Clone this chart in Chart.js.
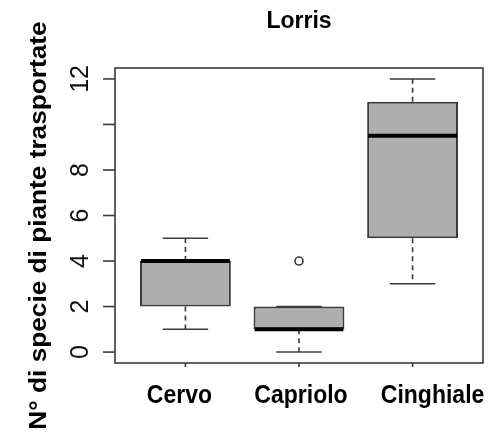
<!DOCTYPE html>
<html>
<head>
<meta charset="utf-8">
<title>Lorris</title>
<script src="https://cdn.jsdelivr.net/npm/chart.js@4.4.0/dist/chart.umd.min.js"></script>
<style>
  html, body { margin: 0; padding: 0; background: #fff; }
  canvas { display: block; }
</style>
</head>
<body>
<canvas id="boxChart" width="493" height="435"></canvas>
<script>
const categories = ['Cervo', 'Capriolo', 'Cinghiale'];
const whiskerLow = [1, 0, 3];
const q1 = [2, 1, 5];
const medians = [4, 1, 9.5];
const q3 = [4, 2, 11];
const whiskerHigh = [5, 2, 12];
const outliers = [[], [4], []];
const yTicks = [0, 2, 4, 6, 8, 10, 12];
const yTickLabels = ['0', '2', '4', '6', '8', '', '12'];

const chartTitle = 'Lorris';
const yTitle = 'N° di specie di piante trasportate';
const FONT = '"Liberation Sans", Arial, sans-serif';

// Spostamento orizzontale delle etichette delle categorie (come nell'originale)
const xLabelShift = [-6, 2, 20];

// Plugin: baffi, mediane, cornice, assi e testi alla maniera di R
const rBoxplot = {
  id: 'rBoxplot',
  afterDatasetsDraw(chart) {
    const { ctx, chartArea: a, scales: { x, y } } = chart;
    const bars = chart.getDatasetMeta(0).data;
    ctx.save();

    // baffi tratteggiati + staffe
    categories.forEach((c, i) => {
      const px = x.getPixelForValue(i + 1);
      const capHalf = x.getPixelForValue(i + 1.2) - px;
      ctx.strokeStyle = '#3a3a3a';
      ctx.lineWidth = 1.6;
      ctx.setLineDash([5, 4]);
      ctx.beginPath();
      ctx.moveTo(px, y.getPixelForValue(q3[i]));
      ctx.lineTo(px, y.getPixelForValue(whiskerHigh[i]));
      ctx.moveTo(px, y.getPixelForValue(q1[i]));
      ctx.lineTo(px, y.getPixelForValue(whiskerLow[i]));
      ctx.stroke();
      ctx.setLineDash([]);
      ctx.beginPath();
      [whiskerHigh[i], whiskerLow[i]].forEach(v => {
        const py = y.getPixelForValue(v);
        ctx.moveTo(px - capHalf, py);
        ctx.lineTo(px + capHalf, py);
      });
      ctx.stroke();

      // mediana
      const bar = bars[i];
      const py = y.getPixelForValue(medians[i]);
      ctx.strokeStyle = '#000';
      ctx.lineWidth = 4;
      ctx.beginPath();
      ctx.moveTo(bar.x - bar.width / 2 + 1, py);
      ctx.lineTo(bar.x + bar.width / 2 - 1, py);
      ctx.stroke();
    });

    // cornice
    ctx.strokeStyle = '#3a3a3a';
    ctx.lineWidth = 1.6;
    ctx.strokeRect(a.left, a.top, a.right - a.left, a.bottom - a.top);

    // asse y: tacche ed etichette ruotate
    ctx.fillStyle = '#111';
    ctx.font = '25px ' + FONT;
    ctx.textAlign = 'center';
    ctx.textBaseline = 'alphabetic';
    yTicks.forEach((v, i) => {
      const py = y.getPixelForValue(v);
      ctx.beginPath();
      ctx.moveTo(a.left - 12, py);
      ctx.lineTo(a.left, py);
      ctx.stroke();
      if (yTickLabels[i]) {
        ctx.save();
        ctx.translate(a.left - 27, py);
        ctx.rotate(-Math.PI / 2);
        ctx.fillText(yTickLabels[i], 0, 0);
        ctx.restore();
      }
    });

    // asse x: tacche ed etichette
    ctx.fillStyle = '#000';
    ctx.font = 'bold 25px ' + FONT;
    categories.forEach((c, i) => {
      const px = x.getPixelForValue(i + 1);
      ctx.beginPath();
      ctx.moveTo(px, a.bottom);
      ctx.lineTo(px, a.bottom + 4);
      ctx.stroke();
      ctx.save();
      ctx.translate(px + xLabelShift[i], a.bottom + 40);
      ctx.scale(0.92, 1);
      ctx.fillText(c, 0, 0);
      ctx.restore();
    });

    // titolo asse y
    ctx.save();
    ctx.font = 'bold 23px ' + FONT;
    ctx.translate(46, (a.top + a.bottom) / 2 + 10);
    ctx.rotate(-Math.PI / 2);
    ctx.scale(1.14, 1);
    ctx.fillText(yTitle, 0, 0);
    ctx.restore();

    // titolo
    ctx.font = 'bold 23px ' + FONT;
    ctx.fillText(chartTitle, (a.left + a.right) / 2, 28);

    ctx.restore();
  }
};

const ctx = document.getElementById('boxChart');
new Chart(ctx, {
  type: 'bar',
  data: {
    datasets: [
      {
        label: 'box',
        data: categories.map((c, i) => ({ x: i + 1, y: [q1[i], q3[i]] })),
        backgroundColor: '#aeaeae',
        borderColor: '#3a3a3a',
        borderWidth: 2,
        borderSkipped: false,
        barPercentage: 0.8,
        categoryPercentage: 1.0
      },
      {
        type: 'scatter',
        label: 'outlier',
        data: outliers.flatMap((vals, i) => vals.map(v => ({ x: i + 1, y: v }))),
        pointStyle: 'circle',
        pointRadius: 4,
        borderColor: '#3a3a3a',
        backgroundColor: 'rgba(0,0,0,0)',
        borderWidth: 1.6
      }
    ]
  },
  options: {
    responsive: false,
    animation: false,
    layout: { padding: { left: 115, right: 10, top: 68, bottom: 72 } },
    scales: {
      x: {
        type: 'linear', min: 0.38, max: 3.62, offset: false, display: false,
        // tacche solo sulle categorie (anche la larghezza delle scatole dipende da qui)
        afterBuildTicks: scale => { scale.ticks = categories.map((c, i) => ({ value: i + 1 })); }
      },
      y: { min: -0.48, max: 12.48, display: false }
    },
    plugins: {
      legend: { display: false },
      title: { display: false },
      tooltip: { enabled: false }
    }
  },
  plugins: [rBoxplot]
});
</script>
</body>
</html>
